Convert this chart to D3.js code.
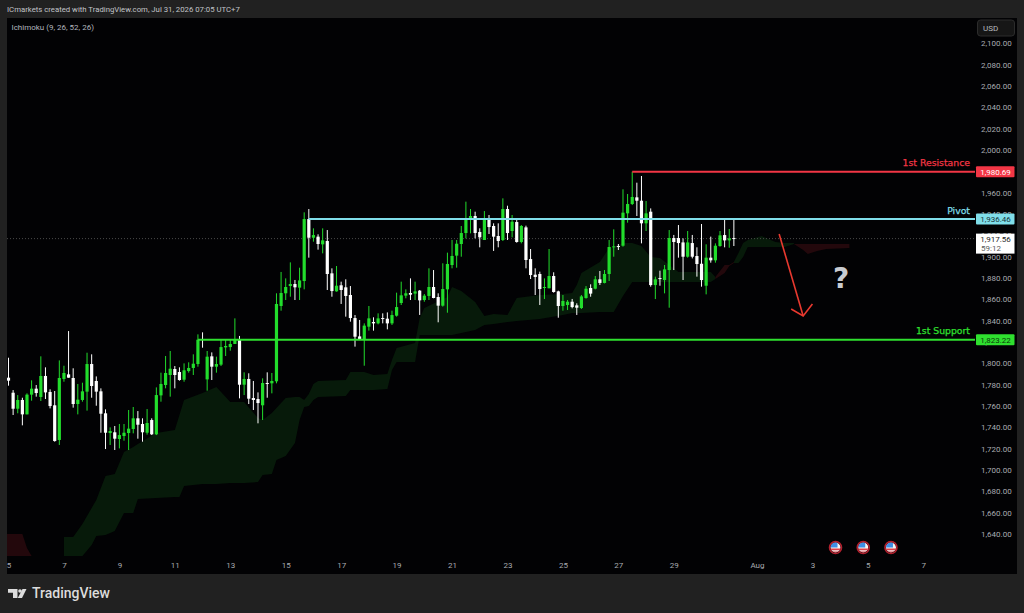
<!DOCTYPE html>
<html>
<head>
<meta charset="utf-8">
<script src="https://cdn.jsdelivr.net/npm/d3@7"></script>
<style>
  html, body { margin: 0; padding: 0; background: #212121; }
  svg { display: block; }
  text { font-family: Roboto, "Liberation Sans", sans-serif; }
  .axis text { fill: #a9abb0; font-size: 8px; }
  .axis path, .axis line { display: none; }
  .level-label { font-family: "DejaVu Sans", sans-serif; font-size: 9.3px; stroke-width: 0.25; }
  .level-price { font-size: 8px; text-anchor: middle; }
</style>
</head>
<body>
<div class="chart-container"></div>
<script>
// 4h candles, one value per bar
var opens = [
  1787.2,1773.1,1758.1,1766.3,1752.8,1771.3,1776.9,1769.1,1788.8,1773.8,
  1761.3,1728.8,1786.0,1790.3,1786.9,1762.5,1766.3,1774.1,1800.0,1784.1,
  1774.4,1753.8,1735.3,1736.0,1729.7,1732.5,1735.3,1739.1,1749.1,1743.8,
  1735.6,1747.5,1734.1,1770.6,1780.3,1789.7,1795.3,1792.5,1785.3,1793.4,
  1796.3,1800.0,1823.4,1785.6,1807.2,1797.5,1799.4,1815.6,1815.9,1818.8,
  1822.5,1780.6,1786.0,1768.1,1767.2,1761.3,1782.2,1781.9,1783.8,1854.4,
  1866.3,1873.1,1875.0,1871.6,1877.8,1935.9,1918.4,1919.4,1912.2,1915.3,
  1885.0,1868.1,1873.8,1871.9,1864.7,1843.1,1825.9,1822.5,1835.0,1839.4,
  1838.1,1843.1,1842.5,1838.1,1845.3,1857.2,1864.1,1866.6,1866.0,1868.8,
  1860.0,1863.8,1872.2,1862.8,1854.7,1870.0,1892.8,1901.6,1912.5,1922.8,
  1935.0,1938.75,1923.8,1916.25,1936.9,1929.4,1920.0,1916.25,1945.3,1924.7,
  1933.1,1914.4,1928.1,1898.4,1883.75,1884.4,1871.9,1871.0,1882.5,1868.1,
  1854.4,1855.3,1858.4,1855.0,1852.5,1861.9,1871.25,1870.6,1879.4,1876.0,
  1884.4,1909.7,1910.6,1910.9,1941.25,1950.0,1956.25,1953.1,1931.9,1942.8,
  1874.0,1880.6,1878.75,1888.1,1918.1,1918.1,1914.0,1900.6,1913.4,1901.25,
  1894.0,1873.4,1899.7,1897.2,1910.6,1920.9,1915.9,1918.1
];
var highs = [
  1805.9,1775.6,1770.9,1768.4,1772.5,1784.7,1780.3,1807.2,1796.9,1776.3,
  1774.7,1803.4,1798.4,1830.9,1796.0,1781.3,1782.5,1810.6,1809.1,1788.4,
  1777.2,1757.5,1740.6,1741.9,1743.8,1743.8,1756.9,1759.7,1755.9,1749.1,
  1757.8,1749.1,1778.1,1791.9,1807.5,1812.2,1798.1,1796.9,1800.6,1801.6,
  1809.1,1827.8,1829.7,1812.2,1810.9,1806.9,1822.5,1823.4,1822.5,1842.8,
  1826.3,1792.2,1791.3,1784.1,1773.4,1786.6,1792.2,1791.6,1866.3,1886.3,
  1880.3,1895.3,1878.8,1890.3,1942.2,1945.3,1927.2,1921.6,1927.2,1925.6,
  1889.7,1891.9,1877.2,1879.4,1873.1,1845.9,1841.3,1838.1,1854.4,1843.8,
  1847.5,1847.5,1848.4,1850.0,1866.9,1877.2,1870.0,1880.3,1877.2,1869.4,
  1865.6,1889.7,1888.1,1866.3,1894.4,1904.4,1916.3,1916.3,1929.4,1952.2,
  1945.3,1942.8,1927.2,1943.4,1939.7,1931.9,1931.9,1955.3,1948.4,1939.7,
  1936.6,1930.3,1929.7,1907.8,1889.7,1886.6,1880.3,1907.8,1886.0,1868.75,
  1864.7,1860.0,1861.0,1856.9,1864.7,1873.1,1874.7,1882.5,1887.2,1888.1,
  1916.25,1926.25,1912.5,1963.75,1959.4,1980.3,1970.0,1976.25,1952.8,1945.9,
  1881.9,1887.5,1892.8,1925.6,1921.0,1930.3,1917.8,1924.7,1921.0,1909.4,
  1931.25,1912.2,1919.4,1913.1,1924.7,1935.0,1926.6,1935.0
];
var lows = [
  1779.7,1752.2,1753.8,1742.5,1752.8,1765.6,1769.4,1765.3,1767.2,1758.4,
  1727.2,1724.1,1783.4,1787.2,1759.1,1752.8,1764.7,1756.3,1768.4,1760.9,
  1735.6,1720.3,1724.1,1719.4,1720.9,1728.1,1719.4,1735.0,1730.0,1727.2,
  1733.8,1733.4,1733.4,1764.7,1777.2,1769.4,1777.2,1784.4,1783.4,1791.9,
  1789.7,1797.5,1815.3,1775.0,1785.0,1791.9,1798.1,1807.5,1812.5,1818.8,
  1767.8,1770.9,1762.5,1756.9,1744.4,1747.5,1768.4,1772.5,1781.9,1850.0,
  1860.0,1863.1,1860.0,1860.0,1870.0,1899.7,1914.7,1907.2,1903.75,1869.4,
  1863.1,1867.8,1856.3,1844.4,1839.7,1816.3,1822.5,1798.4,1831.3,1831.3,
  1837.2,1838.1,1832.5,1836.6,1844.4,1855.3,1861.6,1860.0,1860.0,1846.0,
  1858.4,1860.0,1861.6,1839.1,1853.8,1848.1,1889.7,1890.3,1900.6,1917.8,
  1922.5,1917.8,1909.4,1916.25,1921.9,1906.0,1909.4,1915.3,1916.25,1918.75,
  1913.75,1913.1,1889.7,1879.7,1864.7,1855.3,1860.9,1871.0,1866.9,1843.4,
  1850.0,1850.6,1852.2,1846.0,1851.6,1861.25,1863.1,1870.0,1874.1,1875.6,
  1877.8,1900.6,1906.9,1910.0,1932.5,1949.0,1938.75,1913.1,1924.7,1872.5,
  1860.9,1873.4,1866.25,1852.8,1888.1,1899.7,1878.75,1899.7,1899.0,1881.9,
  1872.5,1865.3,1895.0,1895.0,1910.0,1909.4,1909.0,1910.6
];
var closes = [
  1784.4,1758.1,1766.3,1752.8,1771.3,1776.9,1772.8,1788.8,1773.4,1760.6,
  1727.8,1786.9,1791.6,1787.2,1762.5,1766.6,1774.4,1800.0,1779.4,1774.1,
  1753.4,1735.6,1737.2,1730.0,1733.4,1735.6,1739.4,1749.1,1743.1,1736.0,
  1744.7,1734.1,1770.9,1781.3,1791.6,1795.6,1789.7,1785.0,1794.1,1796.3,
  1800.3,1822.8,1822.8,1806.9,1797.5,1800.0,1815.9,1816.9,1818.8,1822.5,
  1780.6,1786.0,1767.5,1766.3,1763.4,1782.2,1781.6,1784.1,1856.3,1866.6,
  1872.2,1875.0,1871.9,1878.4,1935.9,1918.4,1920.9,1912.5,1915.9,1884.4,
  1868.4,1873.4,1869.4,1863.8,1843.1,1825.6,1822.5,1836.0,1842.8,1838.1,
  1842.8,1842.5,1838.1,1845.9,1853.4,1864.4,1866.3,1865.0,1868.1,1859.7,
  1864.1,1872.2,1861.9,1854.7,1870.3,1893.8,1901.3,1912.8,1922.8,1935.3,
  1938.75,1922.8,1918.75,1936.9,1928.4,1919.4,1915.3,1945.3,1922.8,1933.4,
  1914.4,1929.4,1897.5,1883.4,1881.6,1870.3,1872.2,1882.5,1867.5,1854.4,
  1859.1,1858.4,1853.4,1852.8,1863.4,1870.6,1866.0,1879.4,1876.0,1884.4,
  1909.7,1910.3,1910.0,1941.9,1950.0,1956.6,1953.1,1931.9,1941.25,1874.0,
  1879.4,1880.0,1888.75,1918.1,1914.4,1913.4,1900.6,1914.0,1900.6,1893.75,
  1878.75,1899.7,1897.2,1910.9,1920.6,1915.9,1917.8,1917.56
];

// ichimoku cloud edges, read at the bars where the outline bends
var greenBars = [12,14,16,18,19,21,23,25,27,28,32,36,37,38,42,45,48,51,54,55,57,58,60,62,63,64,65,66,67,73,74,77,79,82,83,84,88,89,90,95,96,98,101,103,105,108,110,115,120,122,123,124,128,130,131,133,135,137,139,141,145,152,153];
var greenUpper = [1637.8,1637.8,1650.0,1665.0,1672.5,1695.0,1696.9,1717.5,1722.2,1725.0,1735.3,1738.1,1752.2,1766.25,1772.8,1778.4,1764.4,1764.4,1749.4,1747.5,1754.1,1758.75,1768.1,1769.1,1769.1,1766.25,1771.9,1781.25,1784.1,1785.0,1792.5,1792.5,1789.7,1790.6,1803.75,1815.0,1819.7,1843.1,1852.5,1862.8,1872.2,1868.4,1858.1,1845.0,1846.9,1846.0,1861.9,1864.7,1865.6,1866.6,1874.1,1885.3,1895.6,1908.75,1909.7,1913.4,1913.4,1910.6,1900.3,1899.4,1886.25,1886.25,1881.6];
var greenLower = [1620.0,1620.0,1620.0,1630.3,1638.75,1639.7,1643.4,1660.3,1660.3,1673.4,1674.4,1675.3,1675.3,1685.6,1687.5,1687.5,1688.4,1688.4,1689.4,1696.0,1696.9,1710.0,1713.75,1725.9,1747.5,1759.7,1760.6,1766.25,1769.1,1770.0,1775.6,1775.6,1775.6,1776.6,1794.4,1801.9,1801.9,1827.2,1827.2,1827.2,1827.2,1829.1,1831.9,1836.6,1837.5,1839.4,1840.3,1842.2,1846.0,1847.8,1847.8,1847.8,1848.75,1848.75,1848.75,1863.75,1876.9,1876.9,1876.9,1876.9,1876.9,1876.9,1879.7];
var greenBars2 = [157,158,159,160,163,166,168,170];
var greenUpper2 = [1895.6,1904.1,1913.4,1916.25,1920.0,1914.4,1913.4,1913.4];
var greenLower2 = [1894.7,1894.7,1900.3,1909.7,1909.7,1909.7,1909.7,1912.5];
var redBars = [-2,3,4,5];
var redUpper = [1640.6,1640.6,1627.5,1620.0];
var redLower = [1610,1610,1610,1610];
var redBars2 = [153,155,156,157];
var redUpper2 = [1881.6,1892.8,1892.8,1895.6];
var redLower2 = [1879.7,1885.3,1891.9,1894.7];
var redBars3 = [170,171,172,173,175,177,182];
var redUpper3 = [1912.5,1912.5,1912.5,1912.5,1912.5,1912.5,1912.5];
var redLower3 = [1912.5,1909.7,1906.9,1903.1,1905.9,1907.8,1908.75];

// axes
var priceTicks = [1640,1660,1680,1700,1720,1740,1760,1780,1800,1820,1840,1860,1880,1900,1920,1940,1960,1980,2000,2020,2040,2060,2080,2100];
var timeTickBars = [0,12,24,36,48,60,72,84,96,108,120,132,144,162,174,186,198];
var timeTickLabels = ['5','7','9','11','13','15','17','19','21','23','25','27','29','Aug','3','5','7'];

// drawn levels
var levelNames = ['1st Resistance', 'Pivot', '1st Support'];
var levelPrices = [1980.69, 1936.46, 1823.22];
var levelStartBars = [135, 65, 41];
var levelColors = ['#f23645', '#80deea', '#2fe02f'];
var levelTextColors = ['#ffffff', '#17343a', '#0c3a0c'];

// projection arrow
var arrowBars = [166.8, 172];
var arrowPrices = [1921.9, 1845.0];
var arrowHeadBars = [169.4, 172, 174];
var arrowHeadPrices = [1851.6, 1845.0, 1856.25];

var lastPrice = 1917.56;
var countdown = '59:12';
var eventBars = [179, 185, 191];

var upColor = '#22dd2c';
var downColor = '#ffffff';

var width = 1024;
var height = 613;
var plot = { left: 7, top: 18, right: 975, bottom: 556, panelRight: 1017, panelBottom: 574 };

var x = d3.scaleLinear().domain([0, 198]).range([8.5, 923.3]);
var y = d3.scaleLinear().domain([1640, 2100]).range([534.7, 44]);

var svg = d3.select('.chart-container').append('svg')
  .attr('width', width)
  .attr('height', height);

svg.append('rect').attr('width', width).attr('height', height).attr('fill', '#212121');

// main panel
svg.append('rect')
  .attr('x', plot.left)
  .attr('y', plot.top)
  .attr('width', plot.panelRight - plot.left)
  .attr('height', plot.panelBottom - plot.top)
  .attr('fill', '#020204');

svg.append('clipPath').attr('id', 'plot-clip')
  .append('rect')
  .attr('x', plot.left)
  .attr('y', plot.top)
  .attr('width', plot.right - plot.left)
  .attr('height', plot.bottom - plot.top);

var chart = svg.append('g').attr('clip-path', 'url(#plot-clip)');

// cloud
function drawCloud(bars, upper, lower, color) {
  var area = d3.area()
    .x(function (d) { return x(bars[d]); })
    .y0(function (d) { return y(lower[d]); })
    .y1(function (d) { return y(upper[d]); });
  chart.append('path')
    .attr('class', 'cloud')
    .datum(d3.range(bars.length))
    .attr('d', area)
    .attr('fill', color);
}

drawCloud(greenBars, greenUpper, greenLower, '#071a0a');
drawCloud(greenBars2, greenUpper2, greenLower2, '#071a0a');
drawCloud(redBars, redUpper, redLower, '#23080c');
drawCloud(redBars2, redUpper2, redLower2, '#23080c');
drawCloud(redBars3, redUpper3, redLower3, '#23080c');

// last price dotted line
chart.append('line')
  .attr('x1', plot.left)
  .attr('x2', plot.right)
  .attr('y1', y(lastPrice))
  .attr('y2', y(lastPrice))
  .attr('stroke', '#4a4a4a')
  .attr('stroke-width', 1)
  .attr('stroke-dasharray', '1,2');

// candles
var candles = chart.selectAll('.candle')
  .data(d3.range(opens.length))
  .enter()
  .append('g')
  .attr('class', 'candle');

function candleColor(i) {
  return closes[i] >= opens[i] ? upColor : downColor;
}

candles.append('line')
  .attr('x1', function (i) { return x(i); })
  .attr('x2', function (i) { return x(i); })
  .attr('y1', function (i) { return y(highs[i]); })
  .attr('y2', function (i) { return y(lows[i]); })
  .attr('stroke', candleColor)
  .attr('stroke-width', 1);

candles.append('rect')
  .attr('x', function (i) { return x(i) - 1.6; })
  .attr('width', 3.2)
  .attr('y', function (i) { return y(Math.max(opens[i], closes[i])); })
  .attr('height', function (i) { return Math.max(1, Math.abs(y(opens[i]) - y(closes[i]))); })
  .attr('fill', candleColor);

// levels
var levels = svg.append('g').attr('transform', 'translate(0,0.6)');

levelPrices.forEach(function (price, k) {
  levels.append('line')
    .attr('x1', x(levelStartBars[k]))
    .attr('x2', plot.right)
    .attr('y1', y(price))
    .attr('y2', y(price))
    .attr('stroke', levelColors[k])
    .attr('stroke-width', 2);

  levels.append('text')
    .attr('class', 'level-label')
    .attr('x', plot.right - 5)
    .attr('y', y(price) - 5.5)
    .attr('text-anchor', 'end')
    .attr('fill', levelColors[k])
    .attr('stroke', levelColors[k])
    .text(levelNames[k]);
});

// arrow
var arrowLine = d3.line()
  .x(function (d) { return x(d[0]); })
  .y(function (d) { return y(d[1]); });

svg.append('path')
  .datum(d3.zip(arrowBars, arrowPrices))
  .attr('d', arrowLine)
  .attr('fill', 'none')
  .attr('stroke', '#e8392f')
  .attr('stroke-width', 1.6);

svg.append('path')
  .datum(d3.zip(arrowHeadBars, arrowHeadPrices))
  .attr('d', arrowLine)
  .attr('fill', 'none')
  .attr('stroke', '#e8392f')
  .attr('stroke-width', 1.6);

svg.append('text')
  .attr('x', x(180.2))
  .attr('y', y(1871.5))
  .attr('text-anchor', 'middle')
  .attr('fill', '#c9ccd1')
  .style('font-family', '"DejaVu Sans", sans-serif')
  .style('font-weight', 700)
  .style('font-size', '28px')
  .text('?');

// price axis
svg.append('g')
  .attr('class', 'axis')
  .attr('transform', 'translate(976,-0.8)')
  .call(d3.axisRight(y)
    .tickValues(priceTicks)
    .tickSize(0)
    .tickPadding(5)
    .tickFormat(d3.format(',.2f')));

// time axis
svg.append('g')
  .attr('class', 'axis')
  .attr('transform', 'translate(0,560)')
  .call(d3.axisBottom(x)
    .tickValues(timeTickBars)
    .tickSize(0)
    .tickPadding(2)
    .tickFormat(function (d) { return timeTickLabels[timeTickBars.indexOf(d)]; }));

// level price tags
levelPrices.forEach(function (price, k) {
  levels.append('rect')
    .attr('x', 976)
    .attr('y', y(price) - 5.5)
    .attr('width', 38.5)
    .attr('height', 11)
    .attr('rx', 1)
    .attr('fill', levelColors[k]);

  levels.append('text')
    .attr('class', 'level-price')
    .attr('x', 995.5)
    .attr('y', y(price) + 3)
    .attr('fill', levelTextColors[k])
    .text(d3.format(',.2f')(price));
});
levels.raise();

// last price tag with countdown
svg.append('rect')
  .attr('x', 976)
  .attr('y', y(lastPrice) - 5)
  .attr('width', 38.5)
  .attr('height', 20)
  .attr('fill', '#ffffff');

svg.append('text')
  .attr('class', 'level-price')
  .attr('x', 995.5)
  .attr('y', y(lastPrice) + 3)
  .attr('fill', '#222222')
  .text(d3.format(',.2f')(lastPrice));

svg.append('text')
  .attr('x', 981)
  .attr('y', y(lastPrice) + 12)
  .attr('fill', '#5a5a5a')
  .style('font-size', '8px')
  .text(countdown);

// currency button
svg.append('rect')
  .attr('x', 977.5)
  .attr('y', 20)
  .attr('width', 37)
  .attr('height', 16)
  .attr('rx', 3)
  .attr('fill', '#161616')
  .attr('stroke', '#2c2c2c');

svg.append('text')
  .attr('x', 983)
  .attr('y', 31)
  .attr('fill', '#b8babf')
  .style('font-size', '8px')
  .text('USD');

// event flags
var flagDefs = svg.append('defs');
flagDefs.append('clipPath').attr('id', 'flag-clip')
  .append('circle').attr('r', 5);

var flags = svg.selectAll('.flag')
  .data(eventBars)
  .enter()
  .append('g')
  .attr('class', 'flag')
  .attr('transform', function (d) { return 'translate(' + x(d) + ',547.5)'; });

var flagInner = flags.append('g').attr('clip-path', 'url(#flag-clip)');
flagInner.append('rect').attr('x', -6).attr('y', -6).attr('width', 12).attr('height', 12).attr('fill', '#f4f4f4');
flagInner.append('rect').attr('x', -6).attr('y', 1).attr('width', 12).attr('height', 1.8).attr('fill', '#e0404a');
flagInner.append('rect').attr('x', -6).attr('y', 4).attr('width', 12).attr('height', 2).attr('fill', '#e0404a');
flagInner.append('rect').attr('x', -6).attr('y', -6).attr('width', 8).attr('height', 6).attr('fill', '#3d8fe6');
flags.append('circle').attr('r', 6).attr('fill', 'none').attr('stroke', '#b3202e').attr('stroke-width', 1.6);

// header text
svg.append('text')
  .attr('x', 7)
  .attr('y', 12)
  .attr('fill', '#c2c4c8')
  .style('font-size', '7.75px')
  .text('ICmarkets created with TradingView.com, Jul 31, 2026 07:05 UTC+7');

svg.append('text')
  .attr('x', 11.5)
  .attr('y', 30.3)
  .attr('fill', '#b2b5be')
  .style('font-size', '8px')
  .text('Ichimoku (9, 26, 52, 26)');

// footer logo
var logo = svg.append('g').attr('fill', '#dcdcdc');
logo.append('path').attr('d', 'M8 589H17.5V598H13V592.8H8Z');
logo.append('circle').attr('cx', 20).attr('cy', 591).attr('r', 1.8);
logo.append('path').attr('d', 'M22.5 589H26.5L22 598H17.8Z');

svg.append('text')
  .attr('x', 32)
  .attr('y', 598)
  .attr('fill', '#dcdcdc')
  .style('font-size', '14px')
  .style('font-weight', 500)
  .text('TradingView');
</script>
</body>
</html>
